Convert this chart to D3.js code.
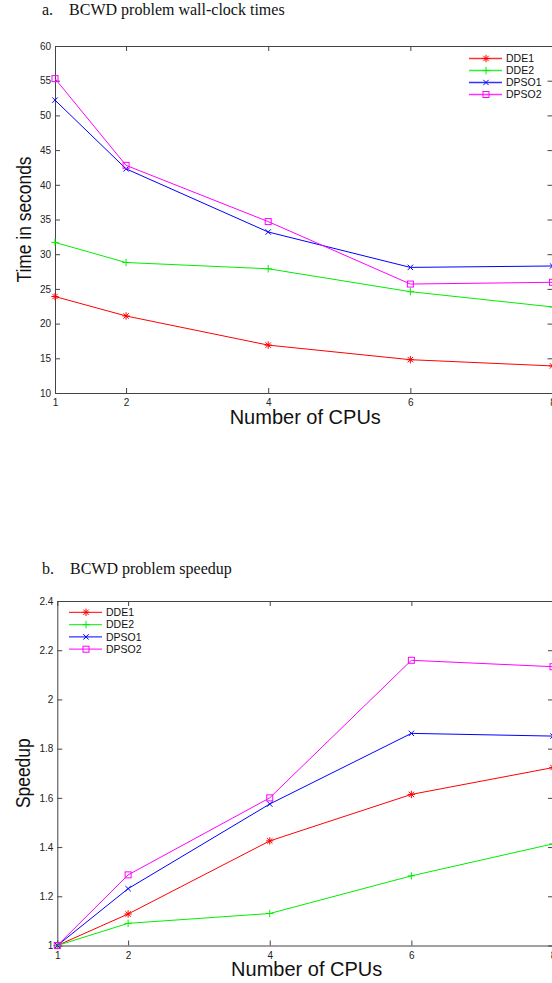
<!DOCTYPE html>
<html><head><meta charset="utf-8">
<script src="https://cdn.jsdelivr.net/npm/d3@7"></script>
<style>
html,body{margin:0;padding:0;background:#fff;overflow:hidden;}
svg{display:block;}
</style></head>
<body>
<script>
// ---- data ----
const cpus = [1, 2, 4, 6, 8];
const seriesNames = ["DDE1", "DDE2", "DPSO1", "DPSO2"];
const timeDDE1  = [23.9, 21.1, 16.9, 14.8, 13.9];
const timeDDE2  = [31.7, 28.8, 27.9, 24.6, 22.4];
const timeDPSO1 = [52.2, 42.3, 33.2, 28.1, 28.3];
const timeDPSO2 = [55.3, 42.8, 34.7, 25.7, 25.95];
const spdDDE1  = [1, 1.128, 1.425, 1.614, 1.723];
const spdDDE2  = [1, 1.09, 1.13, 1.283, 1.413];
const spdDPSO1 = [1, 1.231, 1.575, 1.862, 1.851];
const spdDPSO2 = [1, 1.287, 1.60, 2.159, 2.133];
const xTicks = [1, 2, 4, 6, 8];
const yTicksTime = [10, 15, 20, 25, 30, 35, 40, 45, 50, 55, 60];
const yTicksSpeed = [1, 1.2, 1.4, 1.6, 1.8, 2, 2.2, 2.4];
const titleA = "a.    BCWD problem wall-clock times";
const titleB = "b.    BCWD problem speedup";
const xLabel = "Number of CPUs";
const yLabelA = "Time in seconds";
const yLabelB = "Speedup";

const colors = {DDE1: "#ff0000", DDE2: "#00ee00", DPSO1: "#0000ff", DPSO2: "#ff00ff"};
const markers = {DDE1: "star", DDE2: "plus", DPSO1: "cross", DPSO2: "square"};

const W = 552, H = 983;
const svg = d3.select("body").append("svg").attr("width", W).attr("height", H);

function drawMarker(g, type, x, y, color) {
  const s = 3.2;
  if (type === "square") {
    g.append("rect").attr("x", x - 3).attr("y", y - 3).attr("width", 6).attr("height", 6)
      .attr("fill", "none").attr("stroke", color).attr("stroke-width", 1);
  } else {
    let segs = [];
    if (type === "plus" || type === "star") segs.push([0, -s - 0.5, 0, s + 0.5], [-s - 0.5, 0, s + 0.5, 0]);
    if (type === "cross" || type === "star") segs.push([-s + 0.5, -s + 0.5, s - 0.5, s - 0.5], [-s + 0.5, s - 0.5, s - 0.5, -s + 0.5]);
    segs.forEach(d => g.append("line").attr("x1", x + d[0]).attr("y1", y + d[1])
      .attr("x2", x + d[2]).attr("y2", y + d[3]).attr("stroke", color).attr("stroke-width", 1));
  }
}

function panel(opts) {
  const g = svg.append("g");
  const x = d3.scaleLinear().domain([1, 8]).range([opts.left, opts.right]);
  const y = d3.scaleLinear().domain(opts.yDomain).range([opts.bottom, opts.top]);
  const axisStyle = sel => {
    sel.selectAll("path.domain").attr("stroke", "#444").attr("stroke-width", 1);
    sel.selectAll(".tick line").attr("stroke", "#444").attr("stroke-width", 1);
    sel.selectAll("text").attr("fill", "#222").attr("font-family", "Liberation Sans, Arial, sans-serif").attr("font-size", "10px");
  };
  g.append("g").attr("transform", `translate(0,${opts.bottom})`)
    .call(d3.axisBottom(x).tickValues(xTicks).tickFormat(d3.format("d")).tickSizeInner(-5).tickSizeOuter(0).tickPadding(6))
    .call(axisStyle);
  g.append("g").attr("transform", `translate(0,${opts.top})`)
    .call(d3.axisTop(x).tickValues(xTicks).tickFormat("").tickSizeInner(-5).tickSizeOuter(0))
    .call(axisStyle);
  g.append("g").attr("transform", `translate(${opts.left},0)`)
    .call(d3.axisLeft(y).tickValues(opts.yTicks).tickFormat(d => String(+d.toFixed(2))).tickSizeInner(-5).tickSizeOuter(0).tickPadding(4))
    .call(axisStyle);
  g.append("g").attr("transform", `translate(${opts.right},0)`)
    .call(d3.axisRight(y).tickValues(opts.yTicks).tickFormat("").tickSizeInner(-5).tickSizeOuter(0))
    .call(axisStyle);

  const line = d3.line().x(d => x(d[0])).y(d => y(d[1]));
  opts.series.forEach((vals, i) => {
    const name = seriesNames[i];
    const pts = cpus.map((c, j) => [c, vals[j]]);
    g.append("path").attr("d", line(pts)).attr("fill", "none").attr("stroke", colors[name]).attr("stroke-width", 1);
    pts.forEach(p => drawMarker(g, markers[name], x(p[0]), y(p[1]), colors[name]));
  });

  // legend
  seriesNames.forEach((name, i) => {
    const ly = opts.legY + i * opts.legDy;
    g.append("line").attr("x1", opts.legX).attr("x2", opts.legX + 33).attr("y1", ly).attr("y2", ly)
      .attr("stroke", colors[name]).attr("stroke-width", 1.3).attr("opacity", 0.8);
    drawMarker(g, markers[name], opts.legX + 17, ly, colors[name]);
    g.append("text").attr("x", opts.legX + 37).attr("y", ly).attr("dy", "0.36em")
      .attr("font-family", "Liberation Sans, Arial, sans-serif").attr("font-size", "10.5px").attr("fill", "#111")
      .text(name);
  });

  // title
  svg.append("text").attr("x", 42).attr("y", opts.titleY).attr("font-family", "Liberation Serif, Times New Roman, serif")
    .attr("font-size", "16px").attr("fill", "#111").attr("xml:space", "preserve").style("white-space", "pre").text(opts.title);
  // x label
  svg.append("text").attr("x", (opts.left + opts.right) / 2 + 1.5).attr("y", opts.xLabY).attr("text-anchor", "middle")
    .attr("font-family", "Liberation Sans, Arial, sans-serif").attr("font-size", "20px").attr("fill", "#111").text(xLabel);
  // y label
  svg.append("text").attr("transform", `translate(${opts.yLabX},${(opts.top + opts.bottom) / 2}) rotate(-90) scale(0.83,1)`)
    .attr("text-anchor", "middle").attr("font-family", "Liberation Sans, Arial, sans-serif").attr("font-size", "21px")
    .attr("fill", "#111").text(opts.yLabel);
}

panel({
  left: 55, right: 552.5, top: 46, bottom: 393, yDomain: [10, 60], yTicks: yTicksTime,
  series: [timeDDE1, timeDDE2, timeDPSO1, timeDPSO2],
  legX: 469, legY: 58.5, legDy: 12, title: titleA, titleY: 15, xLabY: 424, yLabX: 31, yLabel: yLabelA
});
panel({
  left: 57.3, right: 553, top: 601, bottom: 945.5, yDomain: [1, 2.4], yTicks: yTicksSpeed,
  series: [spdDDE1, spdDDE2, spdDPSO1, spdDPSO2],
  legX: 69, legY: 612.3, legDy: 12.3, title: titleB, titleY: 574, xLabY: 976, yLabX: 30, yLabel: yLabelB
});
</script>
</body></html>
